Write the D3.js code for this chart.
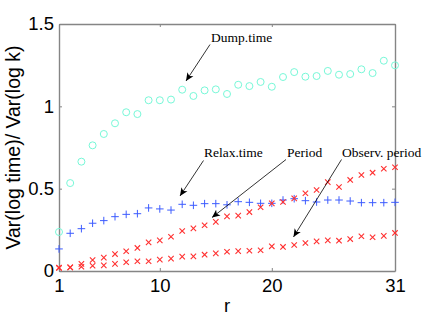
<!DOCTYPE html>
<html><head><meta charset="utf-8">
<script src="https://cdn.jsdelivr.net/npm/d3@7"></script>
<style>body{margin:0;background:#fff}svg{display:block}</style>
</head><body>
<script>
const r = [1,2,3,4,5,6,7,8,9,10,11,12,13,14,15,16,17,18,19,20,21,22,23,24,25,26,27,28,29,30,31];
const dumpTime = [0.237,0.534,0.664,0.763,0.832,0.897,0.964,0.953,1.037,1.037,1.041,1.101,1.063,1.097,1.103,1.075,1.131,1.123,1.148,1.119,1.178,1.208,1.180,1.184,1.215,1.192,1.196,1.225,1.202,1.277,1.249];
const relaxTime = [0.134,0.229,0.257,0.290,0.306,0.330,0.344,0.348,0.383,0.377,0.370,0.405,0.399,0.409,0.409,0.402,0.421,0.417,0.411,0.411,0.431,0.439,0.427,0.419,0.431,0.431,0.425,0.415,0.415,0.415,0.417];
const period = [0.020,0.022,0.043,0.067,0.081,0.103,0.120,0.140,0.174,0.186,0.208,0.243,0.259,0.278,0.298,0.332,0.336,0.358,0.387,0.411,0.419,0.441,0.472,0.492,0.540,0.510,0.553,0.583,0.597,0.621,0.630];
const observPeriod = [0.018,0.022,0.026,0.032,0.034,0.043,0.053,0.059,0.059,0.069,0.075,0.087,0.089,0.099,0.107,0.117,0.121,0.123,0.126,0.150,0.146,0.158,0.170,0.180,0.186,0.184,0.194,0.211,0.205,0.213,0.231];
const xTicks = [1,10,20,31];
const yTicks = [0,0.5,1,1.5];
const yTickLabels = ["0","0.5","1","1.5"];
const annotations = [
  {text:"Dump.time", series:"dump", r:12, tx:211, ty:42, from:[210,44.5], to:[186,81]},
  {text:"Relax.time", series:"relax", r:12, tx:204, ty:157, from:[203.5,160.5], to:[180,196]},
  {text:"Period", series:"period", r:14, tx:287, ty:157, from:[286,159.5], to:[212,217.5]},
  {text:"Observ. period", series:"observ", r:22, tx:342, ty:157, from:[341.5,159.5], to:[293.5,237]}
];

const W=436,H=318;
const m={l:59,r:41,t:24,b:47};
const sans="'Liberation Sans', Arial, sans-serif";
const serif="'Liberation Serif', 'Times New Roman', serif";
const svg=d3.select("body").append("svg").attr("width",W).attr("height",H);
const x=d3.scaleLinear().domain([1,31]).range([m.l,W-m.r]);
const y=d3.scaleLinear().domain([0,1.5]).range([H-m.b,m.t]);

const defs=svg.append("defs");
defs.append("marker").attr("id","ah").attr("viewBox","0 0 10 10").attr("refX",10).attr("refY",5)
  .attr("markerWidth",8).attr("markerHeight",8).attr("markerUnits","userSpaceOnUse").attr("orient","auto")
  .append("path").attr("d","M0,0.5 L10,5 L0,9.5 L2.5,5 Z").attr("fill","#000");

const axisColor="#858585";
function styleAxis(g){
  g.selectAll(".domain").attr("stroke",axisColor).attr("stroke-width",1.4);
  g.selectAll(".tick line").attr("stroke",axisColor).attr("stroke-width",1);
  g.selectAll(".tick text").attr("fill","#000").style("font-family",sans).style("font-size","18.5px");
}
const gx=svg.append("g").attr("transform",`translate(0,${H-m.b})`)
  .call(d3.axisBottom(x).tickValues(xTicks).tickFormat(d3.format("d")).tickSizeInner(-3).tickSizeOuter(0).tickPadding(8));
styleAxis(gx);
const gy=svg.append("g").attr("transform",`translate(${m.l},0)`)
  .call(d3.axisLeft(y).tickValues(yTicks).tickFormat((d,i)=>yTickLabels[i]).tickSizeInner(-3).tickSizeOuter(0).tickPadding(5));
styleAxis(gy);
const gt=svg.append("g").attr("transform",`translate(0,${m.t})`)
  .call(d3.axisTop(x).tickValues(xTicks).tickFormat("").tickSizeInner(-3).tickSizeOuter(0));
styleAxis(gt);
const gr=svg.append("g").attr("transform",`translate(${W-m.r},0)`)
  .call(d3.axisRight(y).tickValues(yTicks).tickFormat("").tickSizeInner(-3).tickSizeOuter(0));
styleAxis(gr);

svg.append("text").attr("x",x(16)).attr("y",312).attr("text-anchor","middle")
  .style("font-family",sans).style("font-size","18.5px").text("r");
svg.append("text").attr("transform",`translate(19.5,${(H-m.b+m.t)/2}) rotate(-90)`).attr("text-anchor","middle")
  .style("font-family",sans).style("font-size","19.5px").text("Var(log time)/ Var(log k)");

const plot=svg.append("g");
plot.selectAll(".dump").data(r).join("circle").attr("class","dump")
  .attr("cx",d=>x(d)).attr("cy",(d,i)=>y(dumpTime[i])).attr("r",3.5)
  .attr("fill","none").attr("stroke","#78f8d8").attr("stroke-width",1);
const ps=3.8;
plot.selectAll(".relax").data(r).join("path").attr("class","relax")
  .attr("d",(d,i)=>{const cx=x(d),cy=y(relaxTime[i]);return `M${cx-ps},${cy}H${cx+ps}M${cx},${cy-ps}V${cy+ps}`;})
  .attr("stroke","#3d5cff").attr("stroke-width",1).attr("fill","none");
const xs=2.7;
function xPath(cx,cy){return `M${cx-xs},${cy-xs}L${cx+xs},${cy+xs}M${cx-xs},${cy+xs}L${cx+xs},${cy-xs}`;}
plot.selectAll(".period").data(r).join("path").attr("class","period")
  .attr("d",(d,i)=>xPath(x(d),y(period[i]))).attr("stroke","#ff3030").attr("stroke-width",1.1).attr("fill","none");
plot.selectAll(".observ").data(r).join("path").attr("class","observ")
  .attr("d",(d,i)=>xPath(x(d),y(observPeriod[i]))).attr("stroke","#ff3030").attr("stroke-width",1.1).attr("fill","none");

const ann=svg.append("g");
annotations.forEach(a=>{
  ann.append("line").attr("x1",a.from[0]).attr("y1",a.from[1]).attr("x2",a.to[0]).attr("y2",a.to[1])
    .attr("stroke","#000").attr("stroke-width",0.8).attr("marker-end","url(#ah)");
  ann.append("text").attr("x",a.tx).attr("y",a.ty).style("font-family",serif)
    .style("font-size","13.5px").attr("fill","#000").text(a.text);
});
</script>
</body></html>
